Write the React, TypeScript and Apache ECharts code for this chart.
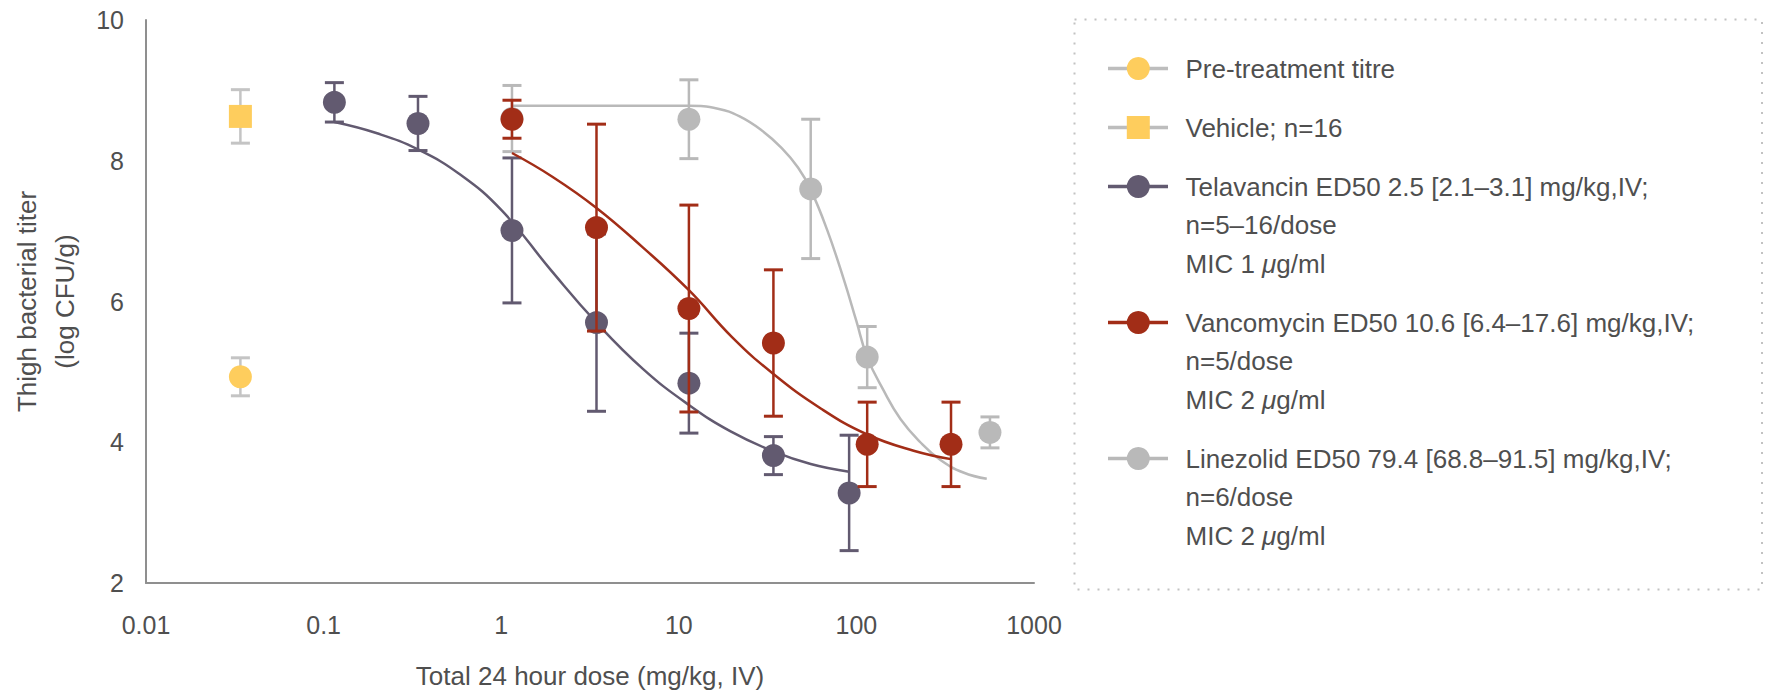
import React, { useEffect, useRef } from "react";
import * as echarts from "echarts";

// ---------- data ----------
const xTickLabels = ["0.01", "0.1", "1", "10", "100", "1000"];
const yTicks = [2, 4, 6, 8, 10];

// control groups (plotted at a nominal dose position)
const preDose = [0.034];
const preMean = [4.93];
const preErr = [0.27];

const vehDose = [0.034];
const vehMean = [8.63];
const vehErr = [0.38];

// Telavancin
const telDose = [0.115, 0.34, 1.15, 3.44, 11.4, 34.1, 91];
const telMean = [8.83, 8.53, 7.01, 5.7, 4.84, 3.81, 3.28];
const telErr = [0.28, 0.385, 1.03, 1.26, 0.71, 0.27, 0.82];
const telCurveDose = [0.115, 0.2, 0.34, 0.59, 1.01, 1.9, 3.44, 6.3, 11.4, 19.7, 34.1, 55.3, 91];
const telCurveVal = [8.55, 8.39, 8.16, 7.8, 7.29, 6.45, 5.7, 5.04, 4.53, 4.15, 3.87, 3.69, 3.58];

// Vancomycin
const vanDose = [1.15, 3.44, 11.4, 34.1, 115, 341];
const vanMean = [8.59, 7.05, 5.9, 5.41, 3.97, 3.97];
const vanErr = [0.27, 1.47, 1.47, 1.04, 0.6, 0.6];
const vanCurveDose = [1.15, 1.95, 3.44, 6.2, 11.4, 20, 34.1, 63, 115, 210, 341];
const vanCurveVal = [8.11, 7.77, 7.33, 6.78, 6.16, 5.49, 4.97, 4.48, 4.11, 3.88, 3.76];

// Linezolid
const linDose = [1.15, 11.4, 55.3, 115, 565];
const linMean = [8.6, 8.59, 7.6, 5.21, 4.14];
const linErr = [0.47, 0.56, 0.99, 0.435, 0.22];
const linCurveDose = [1.15, 5, 11.4, 16.6, 22, 29, 38, 47, 55.3, 68.6, 85, 100, 115, 142, 177, 229, 296, 400, 542];
const linCurveVal = [8.78, 8.78, 8.78, 8.74, 8.63, 8.44, 8.18, 7.9, 7.59, 7.01, 6.31, 5.72, 5.21, 4.74, 4.33, 4.0, 3.75, 3.57, 3.48];

const legendItems = [
  { lines: ["Pre-treatment titre"], color: "#FECD5D", line: "#BDBDBD", symbol: "circle" },
  { lines: ["Vehicle; n=16"], color: "#FECD5D", line: "#BDBDBD", symbol: "square" },
  { lines: ["Telavancin ED50 2.5 [2.1–3.1] mg/kg,IV;", "n=5–16/dose", "MIC 1 {i|μ}g/ml"], color: "#625A70", line: "#625A70", symbol: "circle" },
  { lines: ["Vancomycin ED50 10.6 [6.4–17.6] mg/kg,IV;", "n=5/dose", "MIC 2 {i|μ}g/ml"], color: "#A22D17", line: "#A22D17", symbol: "circle" },
  { lines: ["Linezolid ED50 79.4 [68.8–91.5] mg/kg,IV;", "n=6/dose", "MIC 2 {i|μ}g/ml"], color: "#B9B9B9", line: "#B9B9B9", symbol: "circle" },
];

// ---------- styling ----------
const FONT = '"Liberation Sans", Arial, Helvetica, sans-serif';
const TEXT = "#4F4F4F";
const AXIS = "#8F8F8F";
const YELLOW = "#FECD5D";
const TEL = "#625A70";
const VAN = "#A22D17";
const LIN = "#B9B9B9";
const CTRL_ERR = "#C4C4C4";

const zip = (a: number[], b: number[]) => a.map((v, i) => [v, b[i]]);
const errData = (d: number[], m: number[], e: number[]) => d.map((v, i) => [v, m[i] - e[i], m[i] + e[i]]);

function errSeries(data: number[][], color: string, z: number) {
  return {
    type: "custom",
    z,
    silent: true,
    data,
    encode: { x: 0, y: [1, 2] },
    renderItem: (params: any, api: any) => {
      const x = api.value(0);
      const lo = api.value(1);
      const hi = api.value(2);
      const p1 = api.coord([x, hi]);
      const p2 = api.coord([x, lo]);
      const h = 9.5;
      return {
        type: "group",
        children: [
          { type: "line", shape: { x1: p1[0], y1: p1[1], x2: p2[0], y2: p2[1] }, style: { stroke: color, lineWidth: 2.5 } },
          { type: "line", shape: { x1: p1[0] - h, y1: p1[1], x2: p1[0] + h, y2: p1[1] }, style: { stroke: color, lineWidth: 3 } },
          { type: "line", shape: { x1: p2[0] - h, y1: p2[1], x2: p2[0] + h, y2: p2[1] }, style: { stroke: color, lineWidth: 3 } },
        ],
      };
    },
  };
}

function curveSeries(name: string, data: number[][], color: string, z: number) {
  return {
    type: "line",
    name,
    z,
    data,
    smooth: 0.45,
    showSymbol: false,
    symbol: "none",
    silent: true,
    lineStyle: { color, width: 2.5 },
  };
}

function markerSeries(name: string, data: number[][], color: string, symbol: string, z: number) {
  return {
    type: "scatter",
    name,
    z,
    data,
    symbol,
    symbolSize: 23,
    silent: true,
    itemStyle: { color, opacity: 1 },
  };
}

function buildLegend() {
  const children: any[] = [];
  children.push({
    type: "rect",
    shape: { x: 1074.5, y: 19.5, width: 687.5, height: 570 },
    style: { fill: "none", stroke: "#C2C2C2", lineWidth: 2, lineDash: [2, 8] },
  });
  let y = 68.5;
  legendItems.forEach((it) => {
    children.push({
      type: "line",
      shape: { x1: 1108, y1: y, x2: 1168, y2: y },
      style: { stroke: it.line, lineWidth: 3.5 },
    });
    if (it.symbol === "circle") {
      children.push({ type: "circle", shape: { cx: 1138.3, cy: y, r: 11.5 }, style: { fill: it.color } });
    } else {
      children.push({ type: "rect", shape: { x: 1126.8, y: y - 11.5, width: 23, height: 23 }, style: { fill: it.color } });
    }
    it.lines.forEach((ln, k) => {
      children.push({
        type: "text",
        x: 1185.5,
        y: y + k * 38.5,
        style: {
          text: ln,
          fill: TEXT,
          fontSize: 26,
          fontFamily: FONT,
          verticalAlign: "middle",
          align: "left",
          rich: { i: { fontStyle: "italic", fontSize: 26, fontFamily: FONT, fill: TEXT } },
        },
      });
    });
    y += (it.lines.length - 1) * 38.5 + 59;
  });
  return children;
}

export default function App() {
  const ref = useRef<HTMLDivElement>(null);
  useEffect(() => {
    if (!ref.current) return;
    const chart = echarts.init(ref.current, null, { renderer: "svg" });
    const option: any = {
      animation: false,
      backgroundColor: "#ffffff",
      textStyle: { fontFamily: FONT },
      grid: { left: 142.7, top: 20, width: 891.3, height: 570, containLabel: false },
      xAxis: {
        type: "log",
        logBase: 10,
        min: 0.01,
        max: 1000,
        name: "Total 24 hour dose (mg/kg, IV)",
        nameLocation: "middle",
        nameGap: 80,
        nameTextStyle: { color: TEXT, fontSize: 26, fontFamily: FONT },
        axisLine: { show: true, lineStyle: { color: AXIS, width: 2 } },
        axisTick: { show: false },
        splitLine: { show: false },
        minorTick: { show: false },
        axisLabel: {
          color: TEXT,
          fontSize: 25,
          fontFamily: FONT,
          margin: 29,
          showMinLabel: true,
          showMaxLabel: true,
          formatter: (v: number) => {
            const idx = Math.round(Math.log10(v)) + 2;
            return xTickLabels[idx] ?? String(v);
          },
        },
      },
      yAxis: {
        type: "value",
        min: yTicks[0],
        max: yTicks[yTicks.length - 1],
        interval: 2,
        name: "Thigh bacterial titer\n(log CFU/g)",
        nameLocation: "middle",
        nameGap: 62,
        nameRotate: 90,
        nameTextStyle: { color: TEXT, fontSize: 26, fontFamily: FONT, lineHeight: 38, align: "center" },
        axisLine: { show: true, lineStyle: { color: AXIS, width: 2 } },
        axisTick: { show: false },
        splitLine: { show: false },
        axisLabel: { color: TEXT, fontSize: 25, fontFamily: FONT, margin: 22 },
      },
      graphic: buildLegend(),
      series: [
        // Linezolid
        curveSeries("Linezolid", zip(linCurveDose, linCurveVal), LIN, 2),
        errSeries(errData(linDose, linMean, linErr), LIN, 3),
        markerSeries("Linezolid", zip(linDose, linMean), LIN, "circle", 4),
        // Telavancin
        curveSeries("Telavancin", zip(telCurveDose, telCurveVal), TEL, 5),
        errSeries(errData(telDose, telMean, telErr), TEL, 6),
        markerSeries("Telavancin", zip(telDose, telMean), TEL, "circle", 7),
        // Vancomycin
        curveSeries("Vancomycin", zip(vanCurveDose, vanCurveVal), VAN, 8),
        errSeries(errData(vanDose, vanMean, vanErr), VAN, 9),
        markerSeries("Vancomycin", zip(vanDose, vanMean), VAN, "circle", 10),
        // Controls
        errSeries(errData(vehDose, vehMean, vehErr), CTRL_ERR, 11),
        markerSeries("Vehicle; n=16", zip(vehDose, vehMean), YELLOW, "rect", 12),
        errSeries(errData(preDose, preMean, preErr), CTRL_ERR, 11),
        markerSeries("Pre-treatment titre", zip(preDose, preMean), YELLOW, "circle", 12),
      ],
    };
    chart.setOption(option);
    return () => chart.dispose();
  }, []);
  return (
    <div
      ref={ref}
      style={{ position: "fixed", left: 0, top: 0, width: 1766, height: 694, background: "#fff" }}
    />
  );
}
